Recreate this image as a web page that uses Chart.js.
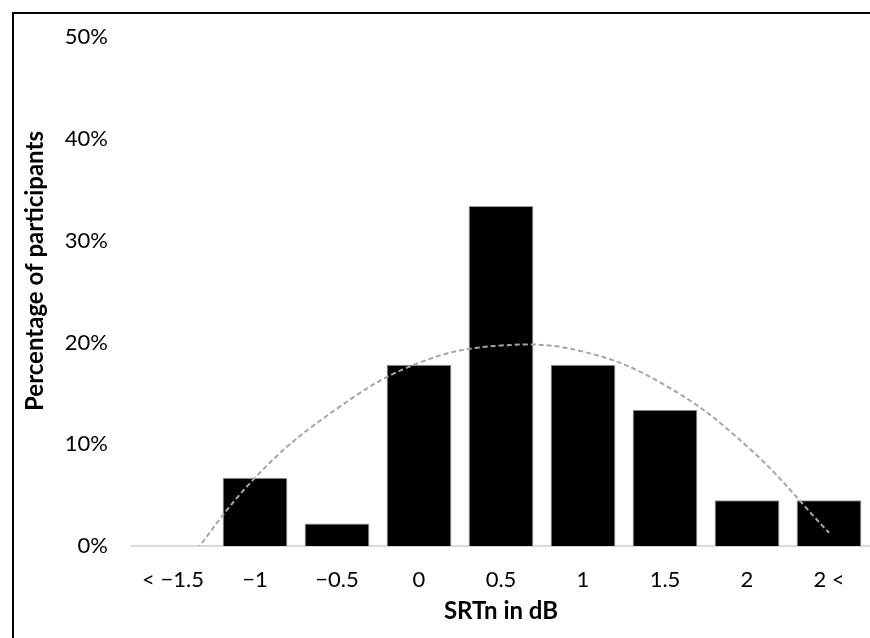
<!DOCTYPE html>
<html lang="en">
<head>
    <meta charset="UTF-8">
    <title>SRTn distribution</title>
    <script src="https://cdn.jsdelivr.net/npm/chart.js"></script>
    <style>
        html, body { margin: 0; padding: 0; background: #fff; overflow: hidden; }
        #wrap { position: absolute; left: 0; top: 0; width: 870px; height: 638px; }
        #frame {
            position: absolute; left: 12px; top: 12px; width: 900px; height: 700px;
            border-left: 2px solid #000; border-top: 2px solid #000; pointer-events: none;
        }
    </style>
</head>
<body>
    <div id="wrap"><canvas id="srtChart"></canvas></div>
    <div id="frame"></div>
    <script>
        // Data
        const categories = ['< \u22121.5', '\u22121', '\u22120.5', '0', '0.5', '1', '1.5', '2', '2 <'];
        const participantPct = [0, 6.7, 2.2, 17.8, 33.4, 17.8, 13.4, 4.5, 4.5];
        // dashed fit curve, read at each category (first one lies below the axis)
        const fitCurvePct = [-3.5, 6.7, 13.5, 18.0, 19.7, 19.1, 15.8, 9.8, 1.3];
        const yTicks = [0, 10, 20, 30, 40, 50];
        const xTitle = 'SRTn in dB';
        const yTitle = 'Percentage of participants';

        const FONT = 'Lato, "Open Sans", sans-serif';

        // y title drawn by hand so it sits where the original puts it
        const yTitlePlugin = {
            id: 'yTitle',
            afterDraw(chart) {
                const ctx = chart.ctx;
                ctx.save();
                ctx.translate(35, 271);
                ctx.rotate(-Math.PI / 2);
                ctx.font = 'bold 24px ' + FONT;
                ctx.fillStyle = '#000';
                ctx.textAlign = 'center';
                ctx.textBaseline = 'middle';
                ctx.fillText(yTitle, 0, 0);
                ctx.restore();
            }
        };

        const ctx = document.getElementById('srtChart').getContext('2d');
        new Chart(ctx, {
            type: 'bar',
            data: {
                labels: categories,
                datasets: [
                    {
                        type: 'line',
                        data: fitCurvePct,
                        borderColor: '#a6a6a6',
                        borderWidth: 2,
                        borderDash: [5, 3],
                        pointRadius: 0,
                        tension: 0.4,
                        fill: false,
                        order: 0
                    },
                    {
                        type: 'bar',
                        data: participantPct,
                        backgroundColor: '#000',
                        borderColor: '#9a9a9a',
                        borderWidth: 1,
                        categoryPercentage: 1,
                        barPercentage: 0.79,
                        order: 1
                    }
                ]
            },
            options: {
                responsive: true,
                maintainAspectRatio: false,
                animation: false,
                layout: { padding: { top: 37, left: 0, right: 0, bottom: 0 } },
                plugins: {
                    legend: { display: false },
                    tooltip: { enabled: false }
                },
                scales: {
                    x: {
                        grid: { display: false, drawTicks: false },
                        border: { display: true, color: '#d9d9d9', width: 2 },
                        ticks: {
                            color: '#000',
                            padding: 21,
                            maxRotation: 0,
                            font: { family: FONT, size: 22 }
                        },
                        title: {
                            display: true,
                            text: xTitle,
                            color: '#000',
                            padding: { top: 0, bottom: 12 },
                            font: { family: FONT, size: 24, weight: 'bold' }
                        },
                        afterFit(scale) { scale.height = 92; }
                    },
                    y: {
                        min: 0,
                        max: 50,
                        grid: { display: false, drawTicks: false },
                        border: { display: false },
                        afterBuildTicks(scale) {
                            scale.ticks = yTicks.map(v => ({ value: v }));
                        },
                        ticks: {
                            color: '#000',
                            padding: 24,
                            font: { family: FONT, size: 22 },
                            callback: v => v + '%'
                        },
                        afterFit(scale) { scale.width = 132; }
                    }
                }
            },
            plugins: [yTitlePlugin]
        });
    </script>
</body>
</html>
